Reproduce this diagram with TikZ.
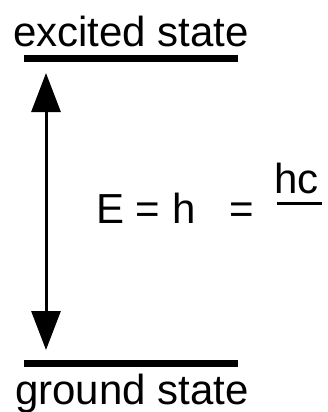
\documentclass[tikz,border=0pt]{standalone}
\usepackage{fontspec}
\setmainfont{Liberation Sans}
\usetikzlibrary{arrows.meta}
\begin{document}
\begin{tikzpicture}[x=1pt,y=-1pt,
  lbl/.style={anchor=base west,inner sep=0pt,font=\fontsize{42}{48}\selectfont},
  level/.style={line width=6.5pt},
  transition/.style={line width=3pt,{Triangle[length=39pt,width=29pt]}-{Triangle[length=39pt,width=29pt]}}]
\useasboundingbox (0,0) rectangle (327,412);
\node[lbl] (excited) at (13,47) {excited state};
\node[lbl] (ground) at (15,404) {ground state};
\coordinate (tl) at (24,58.5);
\coordinate (tr) at (238,58.5);
\coordinate (bl) at (24,363.5);
\coordinate (br) at (238,363.5);
\draw[level] (tl) -- (tr);
\draw[level] (bl) -- (br);
\coordinate (up) at (46,73);
\coordinate (down) at (46,350);
\draw[transition] (up) -- (down);
\node[lbl] (eq) at (96,223) {E = h};
\node[lbl] (eq2) at (229,223) {=};
\node[lbl] (hc) at (274,193) {hc};
\coordinate (fl) at (277,203.5);
\coordinate (fr) at (322,203.5);
\draw[line width=3.5pt] (fl) -- (fr);
\end{tikzpicture}
\end{document}
